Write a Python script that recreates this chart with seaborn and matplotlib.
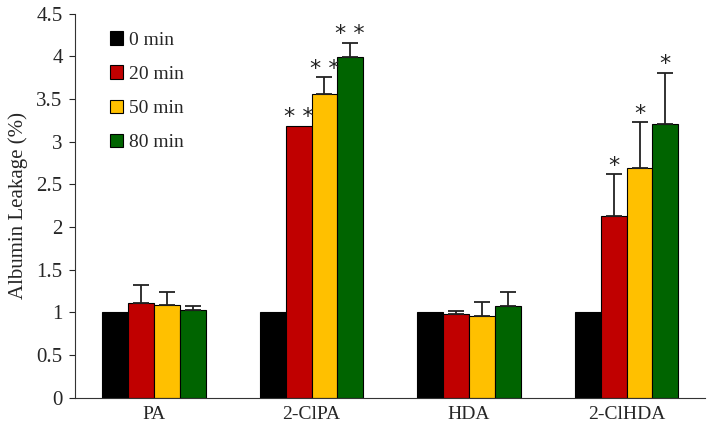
import numpy as np
import pandas as pd
import seaborn as sns
import matplotlib.pyplot as plt

groups = ["PA", "2-ClPA", "HDA", "2-ClHDA"]
times = ["0 min", "20 min", "50 min", "80 min"]
leak_0 = [1.0, 1.0, 1.0, 1.0]
leak_20 = [1.11, 3.19, 0.98, 2.13]
leak_50 = [1.09, 3.56, 0.96, 2.69]
leak_80 = [1.03, 3.99, 1.08, 3.21]
err_0 = [0, 0, 0, 0]
err_20 = [0.21, 0.0, 0.04, 0.49]
err_50 = [0.15, 0.20, 0.16, 0.54]
err_80 = [0.04, 0.17, 0.16, 0.60]
stars_0 = ["", "", "", ""]
stars_20 = ["", "* *", "", "*"]
stars_50 = ["", "* *", "", "*"]
stars_80 = ["", "* *", "", "*"]

leaks = [leak_0, leak_20, leak_50, leak_80]
errs = [err_0, err_20, err_50, err_80]
stars = [stars_0, stars_20, stars_50, stars_80]

df = pd.DataFrame({
    "group": [g for _ in times for g in groups],
    "time": [t for t in times for _ in groups],
    "leak": [v for l in leaks for v in l],
})

sns.set_style("ticks")
plt.rcParams["font.family"] = ["Liberation Serif", "DejaVu Serif"]

fig, ax = plt.subplots(figsize=(7.09, 4.30), dpi=100)
palette = ["#000000", "#C00000", "#FFC000", "#006400"]
sns.barplot(data=df, x="group", y="leak", hue="time", order=groups,
            hue_order=times, palette=palette, width=0.655, gap=0,
            errorbar=None, edgecolor="black", linewidth=0.8,
            saturation=1, ax=ax)

for cont, err, st in zip(ax.containers, errs, stars):
    for bar, e, s in zip(cont, err, st):
        x = bar.get_x() + bar.get_width() / 2
        h = bar.get_height()
        if e > 0:
            ax.errorbar(x, h, yerr=[[0], [e]], fmt="none", ecolor="#222222",
                        elinewidth=1.3, capsize=6, capthick=1.3)
        if s:
            ax.text(x, h + e - 0.02, s, ha="center", va="bottom",
                    fontsize=16, family="DejaVu Sans", color="#222222")

ax.set_ylim(0, 4.5)
ax.set_xlim(-0.5, 3.5)
ax.set_yticks(np.arange(0, 4.51, 0.5))
ax.set_yticklabels(["0", "0.5", "1", "1.5", "2", "2.5", "3", "3.5", "4", "4.5"])
ax.tick_params(axis="y", direction="out", length=4, labelsize=15, pad=5)
ax.tick_params(axis="x", length=0, labelsize=14, pad=6)
ax.set_xlabel("")
ax.set_ylabel("Albumin Leakage (%)", fontsize=15, labelpad=6)
sns.despine(ax=ax)
for sp in ["left", "bottom"]:
    ax.spines[sp].set_color("#333333")

ax.legend(loc="upper left", bbox_to_anchor=(0.027, 1.0), frameon=False,
          fontsize=14, handlelength=0.7, handleheight=0.7,
          handletextpad=0.3, labelspacing=0.85)

plt.subplots_adjust(left=0.106, right=0.995, top=0.968, bottom=0.075)
fig.savefig("out.png", dpi=100)
